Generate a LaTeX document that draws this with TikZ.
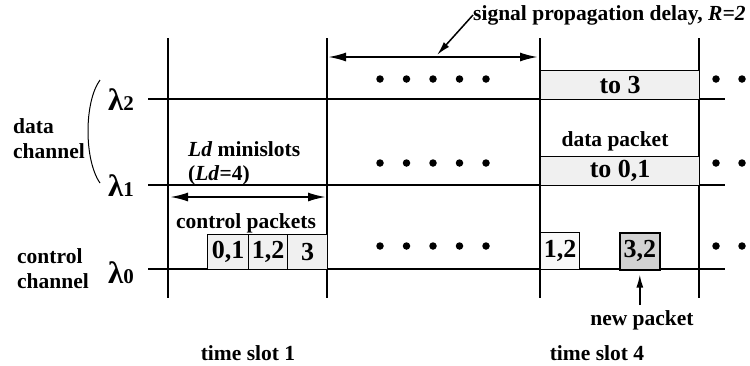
\documentclass[tikz,border=0pt]{standalone}
\usepackage{fontspec}
\setmainfont{Liberation Serif}
\usetikzlibrary{arrows.meta}
\begin{document}
\begin{tikzpicture}[x=1pt,y=-1pt,
  lbl/.style={font=\fontsize{21.5}{25}\selectfont\bfseries, inner sep=0pt},
  lam/.style={font=\fontsize{31}{31}\selectfont\bfseries, inner sep=0pt},
  gridline/.style={line width=1.3pt},
  pkt/.style={draw, line width=1.3pt, fill=gray!12, inner sep=0pt, anchor=north west, font=\fontsize{26}{28}\selectfont\bfseries},
  newpkt/.style={pkt, fill=gray!35, line width=1.6pt},
  arr/.style={line width=1.8pt, -{Latex[length=16pt,width=8pt]}},
  darr/.style={line width=2pt, {Latex[length=18pt,width=9pt]}-{Latex[length=18pt,width=9pt]}},
  dotm/.style={circle, fill=black, inner sep=0pt, minimum size=7.5pt}]
\useasboundingbox (0,0) rectangle (750,365);

% grid
\foreach \x/\n in {168/a,327/b,540/c,699/d}{
  \coordinate (v\n t) at (\x,38);
  \coordinate (v\n b) at (\x,298);
  \draw[gridline] (v\n t) -- (v\n b);
}
\foreach \y/\n in {99/two,185/one,269/zero}{
  \coordinate (h\n l) at (148,\y);
  \coordinate (h\n r) at (725,\y);
  \draw[gridline] (h\n l) -- (h\n r);
}

% wavelength labels
\node[lam] (l2) at (121,100) {λ\fontsize{21}{21}\selectfont 2};
\node[lam] (l1) at (121,186) {λ\fontsize{21}{21}\selectfont 1};
\node[lam] (l0) at (121,273) {λ\fontsize{21}{21}\selectfont 0};
\draw[line width=1pt] (100,80) .. controls (84,102) and (84,160) .. (100,183);
\node[lbl, align=left, anchor=west] (dch) at (13,139) {data\\channel};
\node[lbl, align=left, anchor=west] (cch) at (17,269) {control\\channel};

% top arrow + propagation label
\node[lbl, anchor=west] (sig) at (473,15) {signal propagation delay, \textit{R=2}};
\coordinate (pl) at (328,57);
\coordinate (pr) at (538,57);
\draw[darr] (pl) -- (pr);
\coordinate (sigtip) at (437,55);
\draw[arr, line width=1.5pt, -{Latex[length=14pt,width=7pt]}] (sig.west) -- (sigtip);

% data packets slot 4
\node[pkt, minimum width=159pt, minimum height=29pt] (to3) at (540,70) {to 3};
\node[pkt, minimum width=159pt, minimum height=29pt] (to01) at (540,156) {to 0,1};
\node[lbl] (dp) at (615,141) {data packet};

% Ld minislots
\node[lbl, anchor=west] (ld) at (188,149) {\textit{Ld} minislots};
\node[lbl, anchor=west] (ld4) at (188,175) {(\textit{Ld}=4)};
\coordinate (ll) at (170,197);
\coordinate (lr) at (326,197);
\draw[darr] (ll) -- (lr);

% control packets slot 1
\node[lbl] (cp) at (246,223) {control packets};
\node[pkt, minimum width=41pt, minimum height=35pt] (c01) at (207,234) {0,1};
\node[pkt, minimum width=39pt, minimum height=35pt] (c12) at (248,234) {1,2};
\node[pkt, minimum width=40pt, minimum height=35pt] (c3) at (287,234) {3};

% control packets slot 4
\node[pkt, fill=gray!5, minimum width=39pt, minimum height=37pt] (d12) at (540,232) {1,2};
\node[newpkt, minimum width=40pt, minimum height=37pt] (p32) at (619,232) {3,2};
\node[lbl] (np) at (642,320) {new packet};
\draw[arr, line width=1.5pt, -{Latex[length=13pt,width=7pt]}, shorten >=4pt, shorten <=5pt] (np.north -| p32.south) -- (p32.south);

% time slot labels
\node[lbl] (ts1) at (248,353) {time slot 1};
\node[lbl] (ts4) at (597,353) {time slot 4};

% dots
\foreach \y/\r in {79/a,163/b,246/c}{
  \foreach \x/\k in {380/1,406.5/2,433/3,459.5/4,486/5,716/6,742/7}{
    \node[dotm] (dot\r\k) at (\x,\y) {};
  }
}
\end{tikzpicture}
\end{document}
